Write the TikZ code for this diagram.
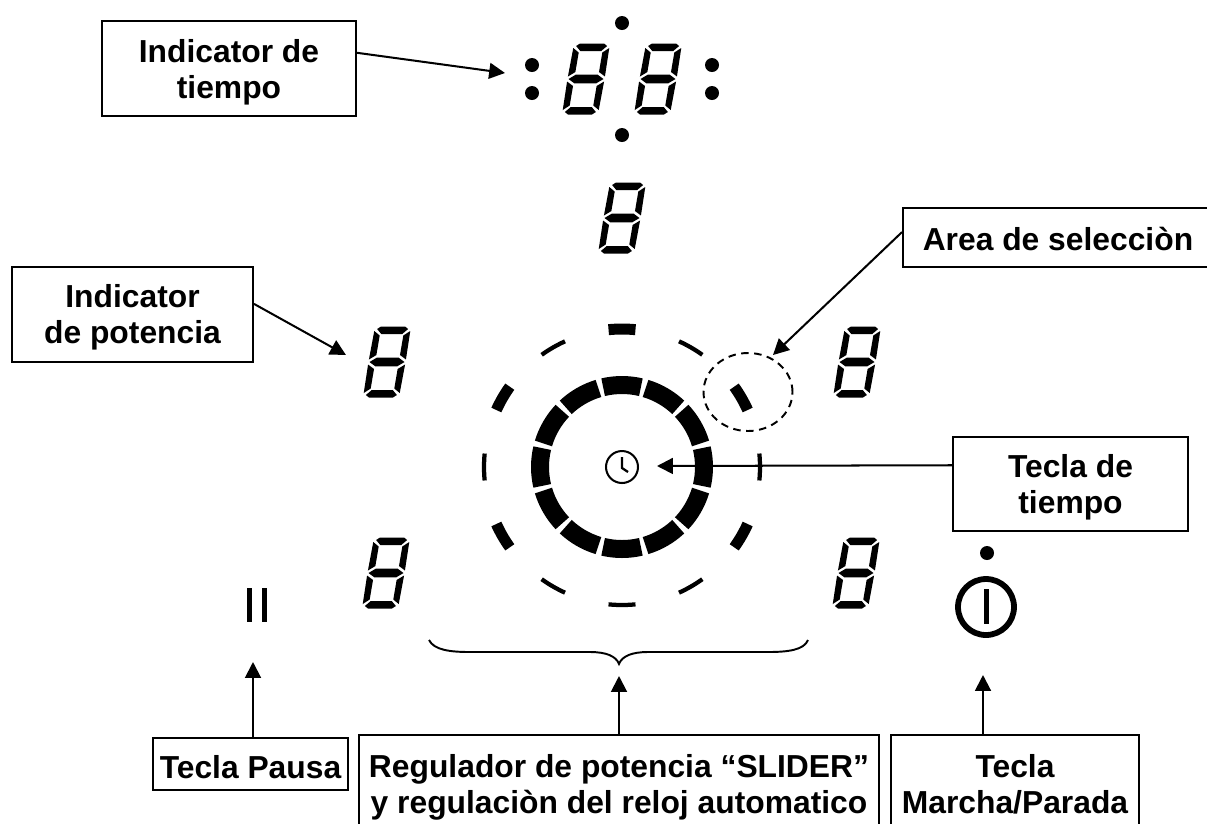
\documentclass[tikz,border=0pt]{standalone}
\usepackage{fontspec}
\setmainfont{Liberation Sans}
\usetikzlibrary{arrows.meta,shapes.geometric}
\newlength{\pxu}\setlength{\pxu}{0.569pt}
\newcommand{\boxtext}[2]{\raisebox{-#1\pxu}[0pt][0pt]{\begin{tabular}{@{}c@{}}#2\end{tabular}}}
\tikzset{
  x=0.02cm,y=-0.02cm,
  box/.style={draw=black,line width=1.15pt,fill=white,inner sep=0pt,
    font=\fontsize{18.1}{20.5}\selectfont\bfseries},
  conn/.style={draw=black,line width=1.15pt,-{Triangle[length=9pt,width=9pt]}},
  blob/.style={circle,fill=black,inner sep=0pt,minimum size=0.28cm},
  sevenseg/.pic={
    \begin{scope}[xslant=0.17]
      \fill (-17.5,0)--(-11,-4.3)--(11,-4.3)--(17.5,0)--(11,4.3)--(-11,4.3)--cycle;
      \foreach \sy in {1,-1}{
        \begin{scope}[yscale=\sy]
          \fill (-12,35.5)--(12,35.5)--(15.5,33)--(10.5,28)--(-10.5,28)--(-15.5,33)--cycle;
          \foreach \sx in {1,-1}{
            \begin{scope}[xscale=\sx]
              \fill (-18.5,2.5)--(-11.8,7)--(-11.8,26.5)--(-18,31)--cycle;
            \end{scope}}
        \end{scope}}
    \end{scope}
  }
}
\begin{document}
\begin{tikzpicture}
\useasboundingbox (0,0) rectangle (1207,823);
\fill[white] (0,0) rectangle (1207,823);
% digits
\foreach \p in {(586,79),(658,79),(622,218),(387,362),(857,362),(386,573),(856,573)}
  \pic at \p {sevenseg};
% dots
\foreach \n/\p in {d1/{(622,23)},d2/{(532,65)},d3/{(532,93)},d4/{(712,65)},d5/{(712,93)},d6/{(622,135)},d7/{(987,553)}}
  \node[blob] (\n) at \p {};
% dial
\coordinate (dial) at (622,467);
\foreach \a in {0,30,...,330}
  \draw[line width=0.36cm] ([shift={(\a-13.3:82)}]dial) arc[start angle=\a-13.3,end angle=\a+13.3,radius=82];
\foreach \a in {30,150,210,270,330}
  \draw[line width=0.22cm] ([shift={(\a-5.6:138)}]dial) arc[start angle=\a-5.6,end angle=\a+5.6,radius=138];
\foreach \a in {0,60,90,120,180,240,300}
  \draw[line width=0.085cm] ([shift={(\a-5.6:138)}]dial) arc[start angle=\a-5.6,end angle=\a+5.6,radius=138];
% clock
\node[circle,draw=black,line width=1.15pt,minimum size=0.64cm,inner sep=0pt] (clock) at (dial) {};
\draw[line width=1.3pt] (622,457)--(622,468)--(628,472);
% selection ellipse
\node[ellipse,draw=black,line width=1.1pt,dash pattern=on 0.15cm off 0.11cm,minimum width=1.78cm,minimum height=1.56cm,inner sep=0pt] (sel) at (748,392) {};
% pause
\fill (247,588) rectangle (252,622);
\fill (262,588) rectangle (267,622);
% power
\node[circle,draw=black,line width=3.3pt,minimum size=1.12cm,inner sep=0pt] (power) at (986,607) {};
\draw[line width=2.85pt] (986,589)--(986,624);
% brace
\draw[line width=1.1pt] (429,640) .. controls (434,650) and (450,652) .. (470,652)
  -- (590,652) .. controls (606,652) and (616,656) .. (619,664)
  .. controls (622,656) and (632,652) .. (648,652)
  -- (768,652) .. controls (788,652) and (804,650) .. (808,640);
% boxes
\node[box,minimum width=5.08cm,minimum height=1.9cm] (b1) at (229,68.5) {\boxtext{12.3}{Indicator de\\tiempo}};
\node[box,minimum width=4.82cm,minimum height=1.9cm] (b2) at (132.5,314.5) {\boxtext{11.8}{Indicator\\de potencia}};
\node[box,minimum width=6.2cm,minimum height=1.18cm] (b3) at (1058,237.5) {\boxtext{13.3}{Area de selecciòn}};
\node[box,minimum width=4.7cm,minimum height=1.88cm] (b4) at (1070.5,484) {\boxtext{11.8}{Tecla de\\tiempo}};
\node[box,minimum width=3.9cm,minimum height=1.04cm] (b5) at (250.5,764) {\boxtext{14.8}{Tecla Pausa}};
\node[box,minimum width=10.4cm,minimum height=1.8cm] (b6) at (619,780) {\boxtext{15.8}{Regulador de potencia “SLIDER”\\y regulaciòn del reloj automatico}};
\node[box,minimum width=4.96cm,minimum height=1.8cm] (b7) at (1015,780) {\boxtext{15.8}{Tecla\\Marcha/Parada}};
% connector ends
\coordinate (t1) at (505,73);
\coordinate (t2) at (346,355);
\coordinate (t3) at (773,355);
\coordinate (t4) at (657,466);
\coordinate (t5) at (253,662);
\coordinate (t6) at (619,676);
\coordinate (t7) at (983,675);
\draw[conn] (b1.7.4) -- (t1);
\draw[conn] (b2.5.9) -- (t2);
\draw[conn] (b3.178.3) -- (t3);
\draw[conn] (b4.171.3) -- (t4);
\draw[conn] (t5 |- b5.north) -- (t5);
\draw[conn] (b6.north) -- (t6);
\draw[conn] (t7 |- b7.north) -- (t7);
\end{tikzpicture}
\end{document}
